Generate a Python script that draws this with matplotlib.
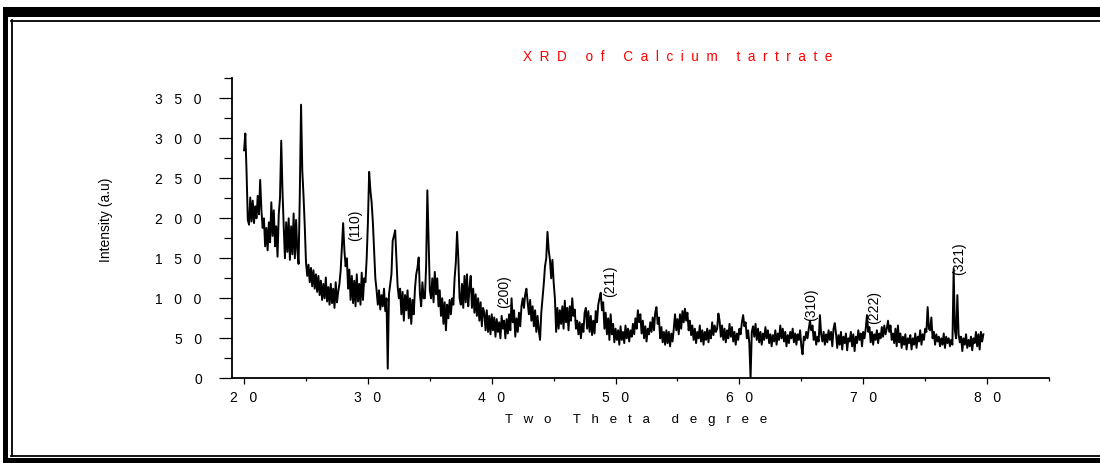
import numpy as np
import matplotlib
matplotlib.use("Agg")
import matplotlib.pyplot as plt
from matplotlib.patches import Rectangle
from matplotlib.lines import Line2D
from matplotlib.ticker import MultipleLocator, FuncFormatter

plt.rcParams['font.family'] = ['Liberation Sans', 'DejaVu Sans']

# ---- data ----
start_2theta = 20.0   # scan start (deg)
step_2theta = 0.1     # scan step (deg)

intensity = [
    285, 306, 258, 198, 192, 226, 196, 222, 194, 215,   # 20
    200, 228, 205, 248, 210, 188, 200, 165, 188, 160,   # 21
    195, 170, 220, 178, 210, 165, 190, 152, 205, 225,   # 22
    297, 235, 190, 150, 195, 158, 200, 148, 190, 155,   # 23
    206, 150, 198, 160, 143, 230, 342, 260, 228, 190,   # 24
    145, 128, 142, 120, 138, 115, 135, 112, 130, 108,   # 25
    128, 104, 122, 98, 118, 100, 126, 96, 114, 92,      # 26
    118, 94, 112, 88, 120, 95, 108, 118, 135, 165,      # 27
    194, 160, 140, 150, 112, 136, 98, 128, 94, 122,     # 28
    90, 130, 96, 118, 92, 132, 98, 125, 120, 150,       # 29
    195, 258, 235, 220, 195, 160, 125, 110, 92, 110,    # 30
    86, 104, 90, 112, 84, 100, 12, 105, 118, 130,       # 31
    172, 178, 185, 150, 115, 100, 112, 80, 108, 72,     # 32
    104, 85, 110, 75, 100, 68, 98, 80, 112, 130,        # 33
    138, 151, 105, 90, 120, 100, 100, 140, 235, 175,    # 34
    110, 100, 125, 95, 133, 105, 125, 90, 110, 78,      # 35
    100, 68, 95, 60, 92, 75, 98, 80, 100, 92,           # 36
    125, 145, 183, 150, 100, 92, 118, 88, 128, 95,      # 37
    130, 90, 112, 128, 88, 112, 82, 105, 78, 100,       # 38
    72, 95, 65, 88, 82, 60, 85, 58, 78, 55,             # 39
    80, 60, 76, 52, 74, 58, 70, 50, 78, 62,             # 40
    72, 50, 74, 56, 80, 60, 100, 70, 85, 52,            # 41
    75, 58, 82, 65, 90, 100, 88, 105, 112, 95,          # 42
    80, 98, 72, 90, 65, 85, 58, 78, 60, 48,             # 43
    82, 100, 118, 140, 150, 183, 160, 148, 125, 148,    # 44
    120, 100, 58, 88, 62, 85, 68, 90, 62, 97,           # 45
    70, 88, 60, 90, 72, 100, 78, 86, 62, 72,            # 46
    55, 70, 50, 68, 58, 82, 88, 62, 84, 58,             # 47
    78, 54, 72, 56, 84, 70, 92, 100, 107, 85,           # 48
    95, 62, 82, 55, 75, 48, 80, 55, 68, 45,             # 49
    62, 48, 60, 42, 65, 48, 58, 44, 66, 50,             # 50
    62, 46, 60, 52, 68, 55, 75, 62, 85, 70,             # 51
    80, 56, 72, 50, 65, 46, 62, 55, 70, 58,             # 52
    76, 60, 82, 89, 68, 76, 50, 64, 45, 58,             # 53
    42, 60, 44, 58, 40, 56, 46, 62, 80, 60,             # 54
    74, 55, 80, 62, 84, 70, 87, 72, 82, 60,             # 55
    72, 54, 66, 48, 62, 44, 58, 50, 66, 46,             # 56
    60, 42, 58, 48, 62, 45, 60, 50, 70, 54,             # 57
    66, 58, 62, 81, 72, 52, 66, 48, 62, 45,             # 58
    60, 50, 68, 52, 64, 46, 58, 42, 56, 48,             # 59
    62, 55, 70, 79, 65, 70, 50, 60, 44, 0,              # 60
    58, 65, 52, 68, 48, 62, 45, 58, 42, 56,             # 61
    48, 64, 50, 60, 44, 55, 40, 54, 46, 60,             # 62
    42, 56, 48, 66, 50, 62, 46, 58, 40, 54,             # 63
    44, 58, 50, 62, 45, 56, 42, 55, 48, 60,             # 64
    40, 30, 52, 48, 58, 50, 62, 72, 60, 66,             # 65
    48, 58, 42, 52, 46, 79, 55, 46, 58, 42,             # 66
    55, 45, 60, 48, 58, 40, 62, 69, 56, 38,             # 67
    54, 42, 58, 36, 52, 44, 56, 35, 50, 46,             # 68
    58, 40, 55, 34, 52, 44, 60, 48, 56, 40,             # 69
    58, 50, 62, 79, 58, 64, 45, 58, 42, 55,             # 70
    48, 60, 44, 56, 50, 64, 52, 66, 55, 62,             # 71
    72, 58, 66, 48, 56, 44, 62, 40, 66, 45,             # 72
    56, 38, 52, 42, 55, 36, 50, 44, 54, 36,             # 73
    50, 42, 56, 38, 52, 46, 60, 42, 55, 48,             # 74
    62, 58, 89, 62, 60, 76, 50, 58, 42, 55,             # 75
    46, 52, 40, 50, 42, 56, 38, 52, 44, 50,             # 76
    40, 48, 42, 137, 60, 50, 104, 55, 45, 52,           # 77
    34, 50, 42, 55, 38, 48, 40, 52, 35, 50,             # 78
    44, 58, 40, 55, 36, 58, 46, 55,                     # 79
]
two_theta = start_2theta + step_2theta * np.arange(len(intensity))

peak_labels = ['(110)', '(200)', '(211)', '(310)', '(222)', '(321)']
peak_label_x = [28.97, 41.0, 49.56, 65.76, 70.89, 77.76]
peak_label_y = [191, 108, 121, 92, 88, 150]

title_text = 'X  R  D     o  f     C  a  l  c  i  u  m     t  a  r  t  r  a  t  e'
xlabel_text = 'T   w   o      T   h   e   t   a      d   e   g   r   e   e'
ylabel_text = 'Intensity (a.u)'

# ---- figure ----
W, H = 1100, 463
fig = plt.figure(figsize=(W / 100, H / 100), dpi=100)
fig.patch.set_facecolor('white')


def fx(px):
    return px / W


def fy(py):
    return 1 - py / H


# double frame around the figure
fig.add_artist(Rectangle((fx(3), fy(17)), fx(1100), 10 / H, transform=fig.transFigure,
                         facecolor='black', edgecolor='none'))
fig.add_artist(Rectangle((fx(3), 0), 5 / W, fy(7), transform=fig.transFigure,
                         facecolor='black', edgecolor='none'))
fig.add_artist(Rectangle((fx(3), 0), 1, 5 / H, transform=fig.transFigure,
                         facecolor='black', edgecolor='none'))
fig.add_artist(Line2D([fx(11), 1], [fy(20.5), fy(20.5)], transform=fig.transFigure,
                      color='black', lw=1.3))
fig.add_artist(Line2D([fx(11.5), fx(11.5)], [fy(20), fy(455.5)], transform=fig.transFigure,
                      color='black', lw=1.3))
fig.add_artist(Line2D([fx(11), 1], [fy(455.5), fy(455.5)], transform=fig.transFigure,
                      color='black', lw=1.3))

left, right, bottom, top = 231.7, 1049, 378.3, 78.3
ax = fig.add_axes([fx(left), fy(bottom), (right - left) / W, (bottom - top) / H])
ax.plot(two_theta, intensity, color='black', lw=1.4)

ax.set_xlim(19, 85)
ax.set_ylim(0, 375)
for s in ('top', 'right'):
    ax.spines[s].set_visible(False)
for s in ('left', 'bottom'):
    ax.spines[s].set_linewidth(1.3)

ax.xaxis.set_major_locator(MultipleLocator(10))
ax.xaxis.set_minor_locator(MultipleLocator(5))
ax.yaxis.set_major_locator(MultipleLocator(50))
ax.yaxis.set_minor_locator(MultipleLocator(25))

spaced = FuncFormatter(lambda v, pos: '   '.join(str(int(round(v)))))
ax.xaxis.set_major_formatter(spaced)
ax.yaxis.set_major_formatter(spaced)

ax.tick_params(axis='y', which='major', direction='out', length=9.5, width=0.9,
               pad=12, labelsize=10)
ax.tick_params(axis='y', which='minor', direction='out', length=6, width=0.9)
ax.tick_params(axis='x', which='major', direction='out', length=4, width=0.9,
               pad=5, labelsize=10)
ax.tick_params(axis='x', which='minor', direction='out', length=2.5, width=0.9)

ax.set_xlabel(xlabel_text, fontsize=9.5)
ax.xaxis.set_label_coords((636 - left) / (right - left), -(420 - bottom) / (bottom - top))
ax.xaxis.label.set_va('center')
ax.set_ylabel(ylabel_text, fontsize=10)
ax.yaxis.set_label_coords((106 - left) / (right - left), (bottom - 220) / (bottom - top))
ax.yaxis.label.set_va('center')

for lab, lx, ly in zip(peak_labels, peak_label_x, peak_label_y):
    ax.text(lx, ly, lab, rotation=90, ha='center', va='center', fontsize=10, color='black')

fig.text(fx(678), fy(57), title_text, color='#ff0000', fontsize=9.8,
         ha='center', va='center')

fig.savefig('out.png', dpi=100)
